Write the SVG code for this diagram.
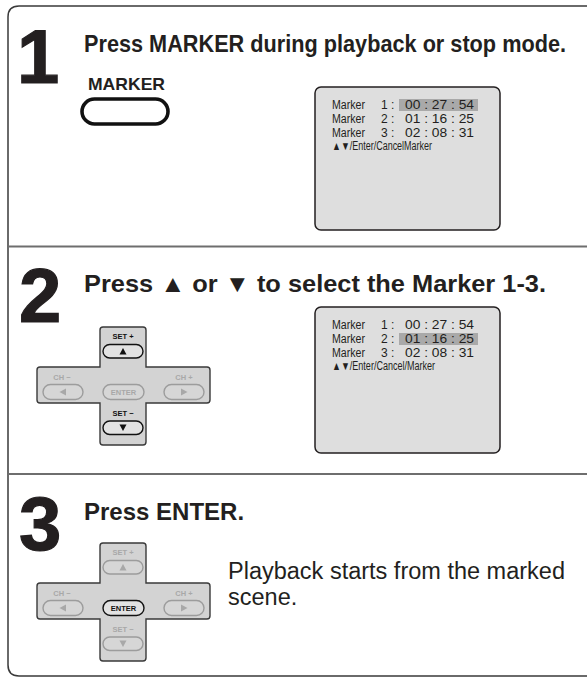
<svg xmlns="http://www.w3.org/2000/svg" width="587" height="680" viewBox="0 0 587 680">
<style>
.num{font-family:"Liberation Sans",Arial,sans-serif;font-weight:bold;font-size:76px;fill:#231f20;stroke:#231f20;stroke-width:1.2}
.hd{font-family:"Liberation Sans",Arial,sans-serif;font-weight:bold;font-size:24px;fill:#231f20}
.body{font-family:"Liberation Sans",Arial,sans-serif;font-size:23.5px;fill:#231f20}
.scr{fill:#dedede;stroke:#231f20;stroke-width:1.5}
.st{font-family:"Liberation Sans",Arial,sans-serif;font-size:12px;fill:#231f20}
.hl{fill:#a9a9a9}
.cross{fill:#d3d3d3;stroke:#3a3a3a;stroke-width:1.4}
.bon{fill:#e2e2e2;stroke:#111;stroke-width:1.4}
.boff{fill:#d6d6d6;stroke:#9c9c9c;stroke-width:1.4}
.lon{font-family:"Liberation Sans",Arial,sans-serif;font-weight:bold;font-size:7.5px;fill:#111;text-anchor:middle}
.loff{font-family:"Liberation Sans",Arial,sans-serif;font-weight:bold;font-size:7.5px;fill:#a8a8a8;text-anchor:middle}
.aon{fill:#111}
.aoff{fill:#a8a8a8}
.div{stroke:#6e6e6e;stroke-width:2}
</style>
<defs>
<path id="crossShape" d="M103,0 H143 Q146,0 146,3 V40 H207 Q210,40 210,43 V73 Q210,76 207,76 H146 V115 Q146,118 143,118 H103 Q100,118 100,115 V76 H40 Q37,76 37,73 V43 Q37,40 40,40 H100 V3 Q100,0 103,0 Z"/>
</defs>
<rect x="0" y="0" width="587" height="680" fill="#fff"/>
<path d="M587,6 H19 Q8,6 8,17 V665 Q8,676 19,676 H587" fill="none" stroke="#3a3a3a" stroke-width="1.5"/>
<g id="connectors">
<line class="div" x1="8" y1="246.5" x2="587" y2="246.5"/>
<line class="div" x1="8" y1="474" x2="587" y2="474"/>
</g>

<g id="step1">
<text class="num" x="17" y="83">1</text>
<text class="hd" x="84" y="52" font-size="19.8" textLength="482" lengthAdjust="spacingAndGlyphs">Press MARKER during playback or stop mode.</text>
<text x="88" y="90" font-family="Liberation Sans,Arial,sans-serif" font-weight="bold" font-size="17" fill="#231f20" textLength="77" lengthAdjust="spacingAndGlyphs">MARKER</text>
<rect x="82" y="99" width="86" height="25" rx="12.5" fill="#fff" stroke="#111" stroke-width="3.6"/>
</g>

<g id="screen1">
<rect class="scr" x="315" y="87" width="185" height="143" rx="6"/>
<rect class="hl" x="399" y="99" width="79" height="12"/>
<text class="st" x="332" y="109" textLength="33" lengthAdjust="spacingAndGlyphs">Marker</text>
<text class="st" x="381" y="109">1 :</text>
<text class="st" x="405" y="109" font-size="12.5" textLength="69" lengthAdjust="spacingAndGlyphs">00 : 27 : 54</text>
<text class="st" x="332" y="123" textLength="33" lengthAdjust="spacingAndGlyphs">Marker</text>
<text class="st" x="381" y="123">2 :</text>
<text class="st" x="405" y="123" font-size="12.5" textLength="69" lengthAdjust="spacingAndGlyphs">01 : 16 : 25</text>
<text class="st" x="332" y="137" textLength="33" lengthAdjust="spacingAndGlyphs">Marker</text>
<text class="st" x="381" y="137">3 :</text>
<text class="st" x="405" y="137" font-size="12.5" textLength="69" lengthAdjust="spacingAndGlyphs">02 : 08 : 31</text>
<text class="st" x="332" y="150" font-size="10" textLength="100" lengthAdjust="spacingAndGlyphs">▲▼/Enter/CancelMarker</text>
</g>

<g id="step2">
<text class="num" x="19" y="322">2</text>
<text class="hd" x="84" y="292" textLength="462" lengthAdjust="spacingAndGlyphs">Press ▲ or ▼ to select the Marker 1-3.</text>
</g>

<g id="dpad2" transform="translate(0,327)">
<use href="#crossShape" class="cross"/>
<text class="lon" x="123" y="11.5">SET +</text>
<rect class="bon" x="103" y="17.5" width="40" height="13.5" rx="6.75"/>
<path class="aon" d="M123,21 L126.5,27.5 H119.5 Z"/>
<text class="loff" x="62" y="52.5">CH −</text>
<rect class="boff" x="43" y="57.5" width="40" height="15" rx="7.5"/>
<path class="aoff" d="M59.5,65 L66,61.5 V68.5 Z"/>
<rect class="boff" x="103" y="57.5" width="41" height="15" rx="7.5"/>
<text class="loff" x="123.5" y="68" font-size="8.5">ENTER</text>
<text class="loff" x="184" y="52.5">CH +</text>
<rect class="boff" x="164" y="57.5" width="40" height="15" rx="7.5"/>
<path class="aoff" d="M187.5,65 L181,61.5 V68.5 Z"/>
<text class="lon" x="123" y="88.5">SET −</text>
<rect class="bon" x="103" y="94" width="40" height="13.5" rx="6.75"/>
<path class="aon" d="M123,104 L126.5,97.5 H119.5 Z"/>
</g>

<g id="screen2">
<rect class="scr" x="315" y="307" width="185" height="146" rx="6"/>
<rect class="hl" x="399" y="333" width="79" height="12"/>
<text class="st" x="332" y="329" textLength="33" lengthAdjust="spacingAndGlyphs">Marker</text>
<text class="st" x="381" y="329">1 :</text>
<text class="st" x="405" y="329" font-size="12.5" textLength="69" lengthAdjust="spacingAndGlyphs">00 : 27 : 54</text>
<text class="st" x="332" y="343" textLength="33" lengthAdjust="spacingAndGlyphs">Marker</text>
<text class="st" x="381" y="343">2 :</text>
<text class="st" x="405" y="343" font-size="12.5" textLength="69" lengthAdjust="spacingAndGlyphs">01 : 16 : 25</text>
<text class="st" x="332" y="357" textLength="33" lengthAdjust="spacingAndGlyphs">Marker</text>
<text class="st" x="381" y="357">3 :</text>
<text class="st" x="405" y="357" font-size="12.5" textLength="69" lengthAdjust="spacingAndGlyphs">02 : 08 : 31</text>
<text class="st" x="332" y="370" font-size="10" textLength="103" lengthAdjust="spacingAndGlyphs">▲▼/Enter/Cancel/Marker</text>
</g>

<g id="step3">
<text class="num" x="19" y="550">3</text>
<text class="hd" x="84" y="520">Press ENTER.</text>
<text class="body" x="228" y="579">Playback starts from the marked</text>
<text class="body" x="228" y="605">scene.</text>
</g>

<g id="dpad3" transform="translate(0,543)">
<use href="#crossShape" class="cross"/>
<text class="loff" x="123" y="11.5">SET +</text>
<rect class="boff" x="103" y="17.5" width="40" height="13.5" rx="6.75"/>
<path class="aoff" d="M123,21 L126.5,27.5 H119.5 Z"/>
<text class="loff" x="62" y="52.5">CH −</text>
<rect class="boff" x="43" y="57.5" width="40" height="15" rx="7.5"/>
<path class="aoff" d="M59.5,65 L66,61.5 V68.5 Z"/>
<rect class="bon" x="103" y="57.5" width="41" height="15" rx="7.5"/>
<text class="lon" x="123.5" y="68" font-size="8.5">ENTER</text>
<text class="loff" x="184" y="52.5">CH +</text>
<rect class="boff" x="164" y="57.5" width="40" height="15" rx="7.5"/>
<path class="aoff" d="M187.5,65 L181,61.5 V68.5 Z"/>
<text class="loff" x="123" y="88.5">SET −</text>
<rect class="boff" x="103" y="94" width="40" height="13.5" rx="6.75"/>
<path class="aoff" d="M123,104 L126.5,97.5 H119.5 Z"/>
</g>
</svg>
